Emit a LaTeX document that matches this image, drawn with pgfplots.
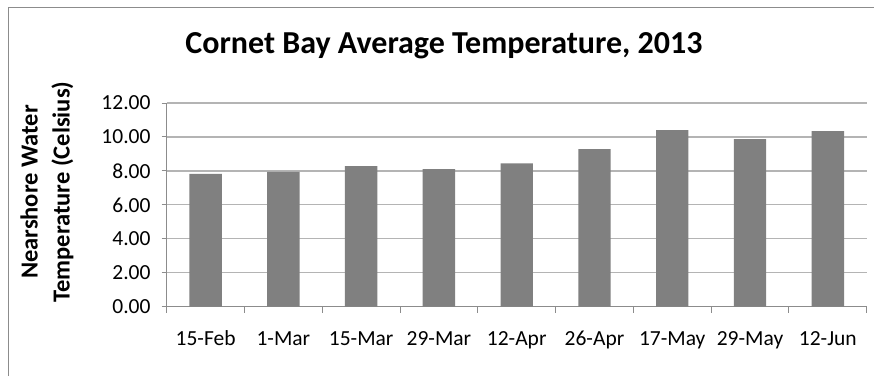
\documentclass[border=0pt]{standalone}
\usepackage{fontspec}
\setmainfont{Carlito}
\usepackage{pgfplots}
\pgfplotsset{compat=1.18}
\definecolor{barc}{HTML}{808080}
\definecolor{gridc}{HTML}{B4B4B4}
\definecolor{axc}{HTML}{8C8C8C}
\definecolor{framec}{HTML}{8C8C8C}
\begin{document}
\begin{tikzpicture}
\path[use as bounding box] (0pt,0pt) rectangle (874pt,-376pt);
\draw[framec, line width=1pt] (8pt,-376pt) -- (8pt,-7pt) -- (874pt,-7pt);
\node[anchor=base, font=\fontsize{32}{36}\selectfont\bfseries] at (444pt,-53.3pt) {Cornet Bay Average Temperature, 2013};
\begin{axis}[
  at={(166.7pt,-306.7pt)}, anchor=south west,
  width=700pt, height=203.7pt, scale only axis,
  xmin=-0.5, xmax=8.5, ymin=0, ymax=12,
  axis x line*=bottom, axis y line*=left,
  axis line style={axc, line width=1pt},
  ymajorgrids, grid style={gridc, line width=1.2pt},
  ytick={0,2,4,6,8,10,12},
  xtick={0,1,2,3,4,5,6,7,8},
  xticklabels={15-Feb,1-Mar,15-Mar,29-Mar,12-Apr,26-Apr,17-May,29-May,12-Jun},
  minor xtick={-0.5,0.5,1.5,2.5,3.5,4.5,5.5,6.5,7.5,8.5},
  major x tick style={draw=none},
  minor x tick style={axc, line width=1pt},
  major y tick style={axc, line width=1pt},
  tick align=outside,
  major tick length=5pt, minor tick length=6pt,
  /pgf/number format/assume math mode=true,
  yticklabel={\pgfmathprintnumber[fixed, fixed zerofill, precision=2]{\tick}},
  tick label style={font=\fontsize{21.5}{24}\selectfont, black},
  xticklabel style={anchor=base, yshift=-34pt},
  yticklabel style={anchor=east, inner sep=0pt, xshift=-11pt},
  ylabel={Nearshore Water\\Temperature (Celsius)},
  ylabel style={align=center, font=\fontsize{24.5}{32}\selectfont\bfseries, at={(rel axis cs:-0.171,0.563)}, anchor=center},
]
\addplot[ybar, bar width=32.4pt, fill=barc, draw=none] coordinates {
  (0,7.82) (1,7.94) (2,8.28) (3,8.10) (4,8.45) (5,9.28) (6,10.40) (7,9.87) (8,10.34)
};
\end{axis}
\end{tikzpicture}
\end{document}
